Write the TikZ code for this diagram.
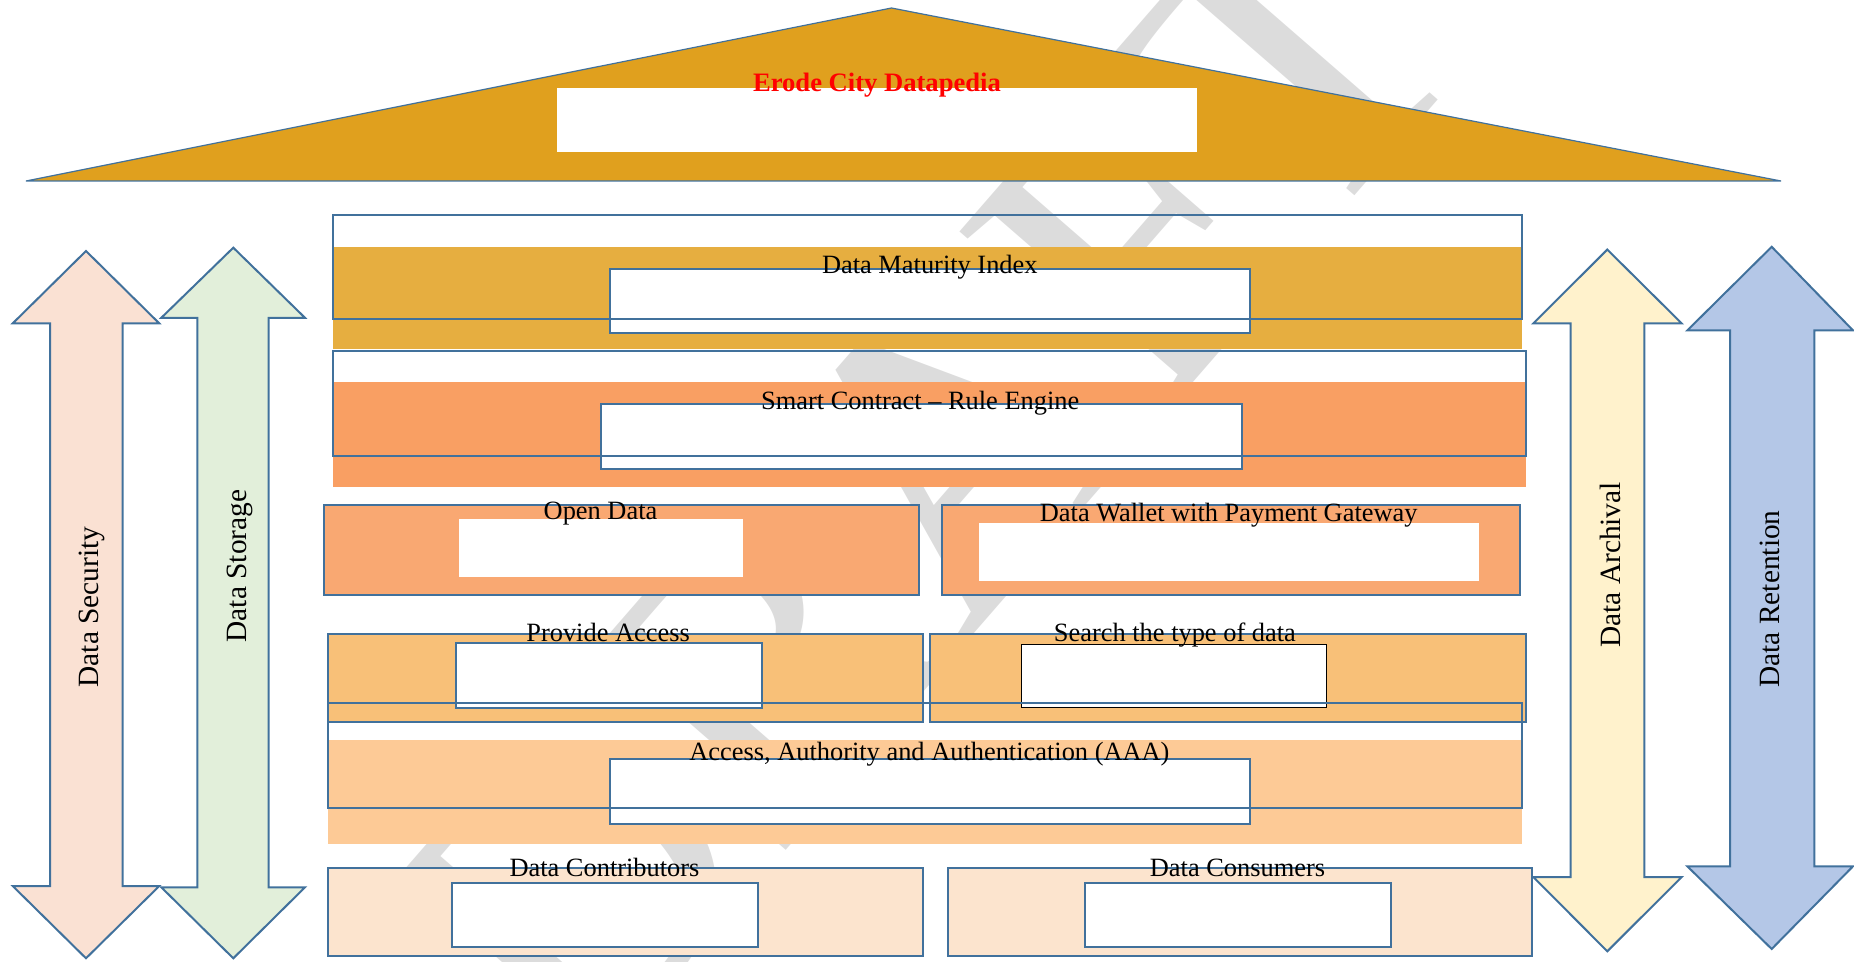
\documentclass[tikz,border=0pt]{standalone}
\usepackage{fontspec}
\setmainfont{Liberation Serif}
\definecolor{edgeblue}{RGB}{65,113,156}
\definecolor{roofgold}{RGB}{224,160,30}
\definecolor{maturegold}{RGB}{230,174,64}
\definecolor{smartorange}{RGB}{249,159,99}
\definecolor{openorange}{RGB}{249,168,114}
\definecolor{accessorange}{RGB}{248,192,120}
\definecolor{aaaorange}{RGB}{253,202,150}
\definecolor{peerpeach}{RGB}{252,228,206}
\definecolor{securepeach}{RGB}{250,225,211}
\definecolor{storegreen}{RGB}{226,239,218}
\definecolor{archyellow}{RGB}{255,242,204}
\definecolor{retainblue}{RGB}{180,199,231}
\definecolor{draftgray}{RGB}{220,220,220}

\begin{document}
\begin{tikzpicture}[x=0.5pt, y=-0.5pt,
    edge/.style={draw=edgeblue, line width=1pt},
    hole/.style={fill=white, draw=edgeblue, line width=1pt},
    boxlabel/.style={anchor=base, inner sep=0pt, font=\fontsize{13.2}{15}\selectfont},
    sidelabel/.style={rotate=90, inner sep=0pt, font=\fontsize{14.7}{17}\selectfont},
    draftmark/.style={text=draftgray, inner sep=0pt, font=\fontsize{210}{210}\selectfont}]
    \useasboundingbox (0,0) rectangle (1854,962);
    \node[draftmark, rotate=49] (draft) at (925,480) {DRAFT};
    % roof
    \filldraw[fill=roofgold, draw=edgeblue, line width=0.6pt] (26,181) -- (891.5,8) -- (1781,181) -- cycle;
    \fill[white] (557,88) rectangle (1196.6,151.7);
    \node[boxlabel, text=red, font=\fontsize{13.3}{15}\selectfont\bfseries] (title) at (877,92) {Erode City Datapedia};
    % side arrows
    \foreach \cx/\yt/\ya/\xl/\sl/\sr/\xr/\yb/\ybt/\col in {
        86/251/323.4/12.7/50/122.7/159.3/886/958.3/securepeach,
        233.3/247.7/317.8/161.3/197.3/268.7/305/887.3/958.3/storegreen,
        1607.3/249.6/323.4/1533.3/1570.7/1644.3/1681.7/877/951.3/archyellow,
        1771.7/246.8/330.4/1687.3/1730/1814.3/1853/866.3/949/retainblue}{
        \filldraw[edge, fill=\col] (\cx,\yt) -- (\xr,\ya) -- (\sr,\ya) -- (\sr,\yb) -- (\xr,\yb)
            -- (\cx,\ybt) -- (\xl,\yb) -- (\sl,\yb) -- (\sl,\ya) -- (\xl,\ya) -- cycle;
    };
    \node[sidelabel] (security) at (92,607) {Data Security};
    \node[sidelabel] (storage) at (240,566) {Data Storage};
    \node[sidelabel] (archival) at (1610,565) {Data Archival};
    \node[sidelabel] (retention) at (1770,599) {Data Retention};
    % data maturity index
    \fill[maturegold] (332.7,247) rectangle (1522.1,349.3);
    \filldraw[hole] (610.1,269) rectangle (1250.3,332.7);
    \draw[edge] (332.7,215) rectangle (1522.1,319.3);
    \node[boxlabel] (maturity) at (929.8,274) {Data Maturity Index};
    % smart contract
    \fill[smartorange] (332.7,382) rectangle (1526.1,486.7);
    \filldraw[hole] (600.5,403.7) rectangle (1241.5,468.7);
    \draw[edge] (332.7,350.7) rectangle (1526.1,456);
    \node[boxlabel] (rules) at (920.2,409.5) {Smart Contract -- Rule Engine};
    % open data / wallet
    \filldraw[edge, fill=openorange] (323.9,505) rectangle (918.6,595);
    \fill[white] (458.6,519) rectangle (743.2,576.7);
    \filldraw[edge, fill=openorange] (941.7,505) rectangle (1519.7,595);
    \fill[white] (979.2,523) rectangle (1479,580.7);
    \node[boxlabel] (open) at (600.5,520) {Open Data};
    \node[boxlabel] (wallet) at (1228.7,522) {Data Wallet with Payment Gateway};
    % access / search
    \filldraw[edge, fill=accessorange] (327.9,634) rectangle (923.4,722.3);
    \filldraw[hole] (455.5,643) rectangle (761.6,707.7);
    \filldraw[edge, fill=accessorange] (929.8,634) rectangle (1526.1,722.3);
    \filldraw[fill=white, draw=black, line width=0.6pt] (1021.5,644.3) rectangle (1326.8,707.3);
    \node[boxlabel] (provide) at (608.1,641.7) {Provide Access};
    \node[boxlabel] (search) at (1174.9,641) {Search the type of data};
    % aaa
    \fill[aaaorange] (327.9,740) rectangle (1522.1,844.3);
    \filldraw[hole] (610.1,759.3) rectangle (1250.3,824.3);
    \draw[edge] (327.9,703.3) rectangle (1522.1,808.3);
    \node[boxlabel] (aaa) at (929.4,760) {Access, Authority and Authentication (AAA)};
    % contributors / consumers
    \filldraw[edge, fill=peerpeach] (327.9,867.7) rectangle (923.4,956);
    \filldraw[hole] (451.5,883) rectangle (758.4,946.7);
    \filldraw[edge, fill=peerpeach] (948.1,867.7) rectangle (1531.7,956);
    \filldraw[hole] (1085.2,883) rectangle (1391.4,946.7);
    \node[boxlabel] (contrib) at (604.5,876.7) {Data Contributors};
    \node[boxlabel] (consume) at (1237.5,876.7) {Data Consumers};
\end{tikzpicture}
\end{document}
